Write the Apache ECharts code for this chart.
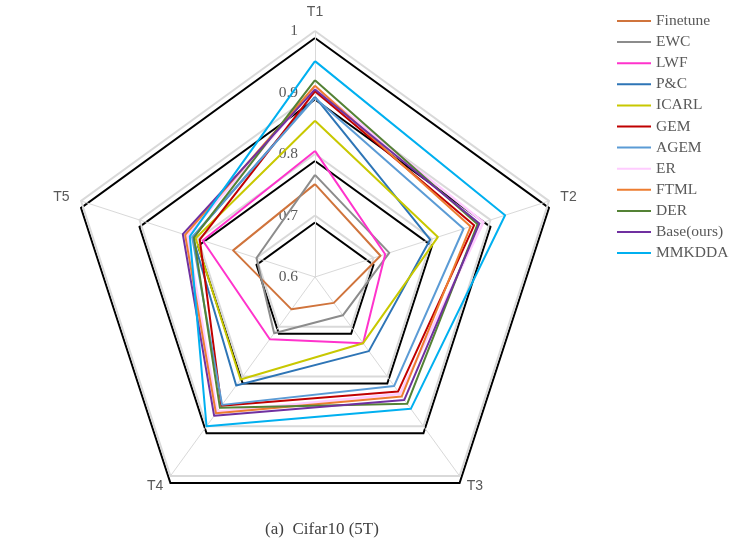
<!DOCTYPE html>
<html>
<head>
<meta charset="utf-8">
<script src="https://cdn.jsdelivr.net/npm/echarts@6/dist/echarts.min.js"></script>
<style>
html,body{margin:0;padding:0;background:#fff;}
#chart{width:748px;height:549px;}
</style>
</head>
<body>
<div id="chart"></div>
<script>
// Axes (indicators), in clockwise order starting at the top
const indicators = ['T1', 'T2', 'T3', 'T4', 'T5'];
const tickLabels = ['0.6', '0.7', '0.8', '0.9', '1'];
const axisMin = 0.6;
const axisMax = 1.0;

// Methods (legend order) and colours
const methods = ['Finetune', 'EWC', 'LWF', 'P&C', 'ICARL', 'GEM', 'AGEM', 'ER', 'FTML', 'DER', 'Base(ours)', 'MMKDDA'];
const colors = ['#D0743C', '#8C8C8C', '#FF33CC', '#2E75B6', '#C8C800', '#C00000', '#5B9BD5', '#FFCCFF', '#ED7D31', '#548235', '#7030A0', '#00B0F0'];

// Values per method, in order T1..T5
const finetune = [0.751, 0.712, 0.652, 0.665, 0.740];
const ewc      = [0.766, 0.727, 0.677, 0.713, 0.700];
const lwf      = [0.805, 0.720, 0.733, 0.725, 0.792];
const pc       = [0.893, 0.797, 0.749, 0.818, 0.809];
const icarl    = [0.854, 0.810, 0.733, 0.806, 0.804];
const gem      = [0.902, 0.872, 0.830, 0.859, 0.797];
const agem     = [0.891, 0.854, 0.819, 0.857, 0.810];
const er       = [0.908, 0.888, 0.835, 0.871, 0.818];
const ftml     = [0.911, 0.866, 0.840, 0.874, 0.822];
const der      = [0.920, 0.878, 0.855, 0.863, 0.807];
const base     = [0.905, 0.881, 0.847, 0.879, 0.826];
const mmkdda   = [0.951, 0.925, 0.865, 0.900, 0.814];

const values = [finetune, ewc, lwf, pc, icarl, gem, agem, er, ftml, der, base, mmkdda];

// ECharts radar runs counter-clockwise; feed axes in order T1, T5, T4, T3, T2 so T2 sits on the right.
const order = [0, 4, 3, 2, 1];

const chart = echarts.init(document.getElementById('chart'), null, {renderer: 'canvas'});

const indicatorOpts = order.map(function (k, i) {
  const o = {name: indicators[k], min: axisMin, max: axisMax};
  if (i === 0) {
    o.axisLabel = {
      show: true,
      color: '#595959',
      fontFamily: 'Liberation Serif',
      fontSize: 15.5,
      margin: 17,
      padding: [4, 0, 0, 0],
      formatter: function (v, idx) { return tickLabels[idx]; }
    };
  }
  return o;
});

const series = methods.map(function (m, i) {
  return {
    type: 'radar',
    name: m,
    symbol: 'none',
    z: 2 + i,
    lineStyle: {color: colors[i], width: i === 7 ? 2.5 : 2},
    itemStyle: {color: colors[i]},
    data: [{value: order.map(function (k) { return values[i][k]; }), name: m}]
  };
});

chart.setOption({
  animation: false,
  backgroundColor: '#ffffff',
  title: {
    text: '(a)  Cifar10 (5T)',
    left: 317,
    top: 516,
    textAlign: 'center',
    textStyle: {fontFamily: 'Liberation Serif', fontSize: 17, fontWeight: 'normal', color: '#404040'}
  },
  legend: {
    orient: 'vertical',
    left: 612,
    top: 8,
    icon: 'rect',
    itemWidth: 34,
    itemHeight: 2,
    itemGap: 5.1,
    textStyle: {fontFamily: 'Liberation Serif', fontSize: 15.5, color: '#595959', lineHeight: 14},
    data: methods
  },
  radar: {
    center: [315, 277],
    radius: 246,
    startAngle: 90,
    splitNumber: 4,
    shape: 'polygon',
    nameGap: 12,
    axisName: {color: '#595959', fontFamily: 'Liberation Sans', fontSize: 14},
    axisLabel: {show: false},
    axisLine: {lineStyle: {color: '#d9d9d9', width: 1}},
    splitArea: {show: false},
    splitLine: {
      lineStyle: {
        color: '#d9d9d9',
        width: 2,
        shadowColor: 'rgba(0,0,0,1)',
        shadowBlur: 0,
        shadowOffsetX: 0,
        shadowOffsetY: 7
      }
    },
    indicator: indicatorOpts
  },
  series: series
});
</script>
</body>
</html>
